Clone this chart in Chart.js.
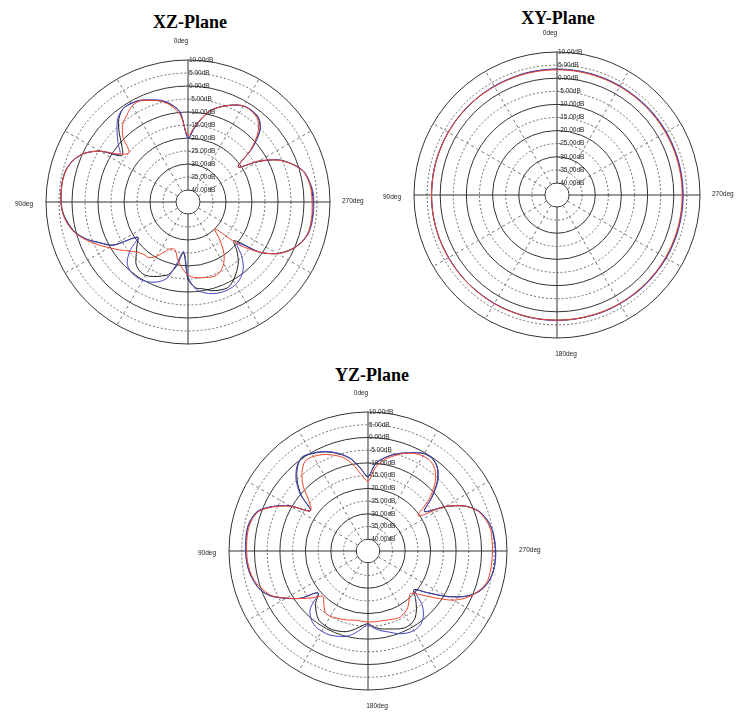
<!DOCTYPE html>
<html>
<head>
<meta charset="utf-8">
<script src="https://cdn.jsdelivr.net/npm/chart.js@4.4.0/dist/chart.umd.min.js"></script>
<style>
  html, body { margin: 0; padding: 0; background: #fff; }
  body { width: 743px; height: 721px; position: relative; overflow: hidden; }
  .title { position: absolute; font: bold 18px "Liberation Serif", "Times New Roman", serif; line-height: 18px; color: #000; transform: translateX(-50%); white-space: nowrap; }
  canvas { position: absolute; }
</style>
</head>
<body>
<div class="title" style="left:190px; top:13px">XZ-Plane</div>
<div class="title" style="left:558px; top:9px">XY-Plane</div>
<div class="title" style="left:372px; top:366px">YZ-Plane</div>
<canvas id="xz" width="372" height="320" style="left:0px; top:30px"></canvas>
<canvas id="xy" width="369" height="340" style="left:374px; top:25px"></canvas>
<canvas id="yz" width="370" height="331" style="left:190px; top:390px"></canvas>
<script>
// angles (deg, counter-clockwise from top as in the plots)
const angles = [0, 5, 10, 15, 20, 25, 30, 35, 40, 45, 50, 55,
  60, 65, 70, 75, 80, 85, 90, 95, 100, 105, 110, 115,
  120, 125, 130, 135, 140, 145, 150, 155, 160, 165, 170, 175,
  180, 185, 190, 195, 200, 205, 210, 215, 220, 225, 230, 235,
  240, 245, 250, 255, 260, 265, 270, 275, 280, 285, 290, 295,
  300, 305, 310, 315, 320, 325, 330, 335, 340, 345, 350, 355];

const dbTicks = [-40, -35, -30, -25, -20, -15, -10, -5, 0, 5, 10];
const dbMin = -44.6;
const dbMax = 10;

// XZ-Plane
const xzBlack = [-20, -10, -6.5, -4.3, -3.0, -1.5, -0.9, -0.9, -3.2, -7.2, -11.5, -13.5,
  -5.5, -0.5, 2.3, 3.8, 4.3, 4.3, 4.2, 3.6, 2.2, 0.3, -3.0, -7.5,
  -11.5, -21, -19, -16.5, -13.5, -12.2, -12.0, -13.0, -14.3, -15.8, -19.7, -25,
  -15, -11.5, -10.7, -9.3, -8.6, -8.3, -9.8, -12, -14.5, -18, -21.5, -11,
  -5, -1.2, 1.5, 3.0, 3.5, 3.6, 3.5, 3.3, 2.5, 1.3, -2, -6.3,
  -13.5, -21, -12.5, -5.5, -2.5, -1.8, -2.0, -3.5, -5.5, -7.8, -11.5, -16];
const xzBlue = [-20, -10, -6.3, -4.1, -2.8, -1.4, -0.8, -0.9, -2.6, -6.0, -9.5, -12.5,
  -5.5, -0.4, 2.4, 3.9, 4.4, 4.4, 4.3, 3.7, 2.3, 0.4, -2.9, -7.3,
  -11.3, -21, -15.5, -11.5, -10, -9.6, -9.8, -10.6, -12, -14.5, -21, -25.5,
  -16, -11, -9.2, -8.1, -7.6, -7.5, -8.0, -9.2, -11.5, -15.5, -20, -11,
  -4.9, -1.1, 1.6, 3.2, 3.7, 3.8, 3.8, 3.6, 2.7, 1.4, -1.9, -6.2,
  -13.3, -21, -12.3, -5.3, -2.3, -1.7, -1.9, -3.4, -5.4, -7.7, -11.4, -16];
const xzRed = [-19, -11, -7, -4.5, -3.0, -1.6, -1.8, -3.7, -5.6, -9.2, -15, -12.5,
  -5.5, -0.5, 2.3, 3.8, 4.3, 4.4, 4.3, 3.8, 2.6, 0.6, -2.5, -6,
  -9.5, -12.5, -15.2, -17.3, -18.2, -18.5, -20.5, -23.5, -25.5, -25.5, -22, -19,
  -16.5, -15.5, -15, -14.6, -14.3, -15.2, -17.2, -20.5, -25.5, -30, -19, -11,
  -4.8, -1, 1.5, 3.0, 3.3, 3.3, 3.1, 3.0, 2.5, 1.2, -2, -6.5,
  -13, -21, -13, -6.5, -3, -2, -2, -3.5, -5.5, -7.8, -11.3, -15.5];

// XY-Plane
const xyBlack = [3.4, 3.4, 3.4, 3.4, 3.3, 3.3, 3.3, 3.3, 3.3, 3.3, 3.3, 3.3,
  3.3, 3.3, 3.3, 3.3, 3.3, 3.3, 3.3, 3.3, 3.3, 3.3, 3.3, 3.2,
  3.2, 3.2, 3.2, 3.2, 3.2, 3.2, 3.2, 3.2, 3.2, 3.2, 3.2, 3.2,
  3.2, 3.2, 3.2, 3.2, 3.3, 3.3, 3.3, 3.3, 3.3, 3.3, 3.3, 3.4,
  3.4, 3.4, 3.4, 3.4, 3.4, 3.4, 3.4, 3.4, 3.4, 3.4, 3.4, 3.4,
  3.4, 3.4, 3.4, 3.4, 3.4, 3.4, 3.4, 3.4, 3.4, 3.4, 3.4, 3.4];
const xyBlue = [3.5, 3.5, 3.5, 3.5, 3.4, 3.4, 3.4, 3.4, 3.4, 3.4, 3.4, 3.4,
  3.4, 3.4, 3.4, 3.4, 3.4, 3.3, 3.3, 3.3, 3.3, 3.3, 3.3, 3.2,
  3.2, 3.2, 3.2, 3.2, 3.2, 3.2, 3.2, 3.2, 3.2, 3.3, 3.3, 3.3,
  3.3, 3.3, 3.3, 3.3, 3.4, 3.4, 3.4, 3.4, 3.5, 3.5, 3.5, 3.5,
  3.6, 3.6, 3.6, 3.6, 3.6, 3.6, 3.6, 3.6, 3.6, 3.6, 3.6, 3.6,
  3.6, 3.6, 3.6, 3.6, 3.5, 3.5, 3.5, 3.5, 3.5, 3.5, 3.5, 3.5];
const xyRed = [3.2, 3.2, 3.2, 3.2, 3.2, 3.2, 3.2, 3.3, 3.3, 3.3, 3.3, 3.3,
  3.3, 3.3, 3.3, 3.3, 3.3, 3.3, 3.3, 3.3, 3.3, 3.3, 3.3, 3.3,
  3.3, 3.3, 3.3, 3.3, 3.3, 3.3, 3.3, 3.3, 3.2, 3.2, 3.2, 3.2,
  3.2, 3.2, 3.2, 3.2, 3.2, 3.2, 3.2, 3.2, 3.2, 3.2, 3.2, 3.2,
  3.2, 3.2, 3.2, 3.2, 3.2, 3.2, 3.2, 3.2, 3.2, 3.2, 3.2, 3.2,
  3.2, 3.2, 3.2, 3.2, 3.2, 3.2, 3.2, 3.2, 3.2, 3.2, 3.2, 3.2];

// YZ-Plane
const yzBlack = [-15.5, -12.2, -8.2, -5.5, -3.4, -1.7, -0.5, 0.4, -1.5, -5.2, -10.3, -17,
  -9.2, -3.3, 1.3, 3.0, 3.6, 3.5, 3.4, 3.2, 2.7, 1.7, 0.2, -2.7,
  -7.5, -12.3, -19, -15.5, -13, -11.2, -10.8, -10.6, -11.1, -11.8, -13.3, -15,
  -16, -14.5, -13.5, -12.9, -12, -11.2, -11.3, -12.4, -15, -18.2, -21, -16,
  -9, -2.5, 1.8, 4.0, 5.1, 5.5, 5.5, 5.25, 4.8, 3.6, 1.5, -2.8,
  -9.8, -17.5, -12, -6.2, -2.2, -0.4, -0.5, -2.0, -3.7, -5.4, -7.5, -10.2];
const yzBlue = [-15.3, -12, -8, -5.3, -3.2, -1.5, -0.3, 0.5, -1.2, -4.6, -9.8, -17,
  -9.0, -3.2, 1.4, 3.1, 3.7, 3.6, 3.5, 3.3, 2.8, 1.8, 0.3, -2.6,
  -7.4, -12.2, -19, -12.5, -9.8, -8.5, -8.2, -8.3, -9.0, -9.8, -11.5, -13.8,
  -15.6, -14, -12.7, -11.6, -10, -9, -8.5, -9, -10.8, -14.5, -20.5, -16,
  -8.9, -2.4, 1.9, 4.1, 5.2, 5.6, 5.6, 5.35, 4.9, 3.7, 1.6, -2.7,
  -9.7, -17.5, -11.8, -5.8, -2.0, -0.3, -0.4, -1.9, -3.6, -5.3, -7.4, -10];
const yzRed = [-17.2, -14.5, -10, -6.6, -4.5, -2.8, -1.7, -1.5, -4.3, -8.6, -14.5, -17,
  -9.5, -3.6, 1.0, 2.6, 3.2, 3.2, 3.1, 2.9, 2.4, 1.4, -0.6, -3,
  -7.6, -12, -16, -19.4, -17.6, -15.3, -14.9, -15.5, -16, -16.5, -17, -16.9,
  -16.7, -16.7, -16.7, -16.5, -16.1, -15.7, -16.3, -17.4, -19.5, -21, -18, -12.5,
  -6, -1.5, 1.5, 3.6, 4.1, 4.2, 4.3, 4.3, 4.3, 3.2, 1.3, -2.8,
  -9.8, -20.5, -13.5, -7.5, -3.5, -1.6, -1.5, -2.3, -3.8, -6.0, -8.3, -11.8];

const BLACK = '#1e1e1e';
const BLUE = '#4646c8';
const RED = '#f0442c';

// radar goes clockwise, the plots go counter-clockwise
function toChartOrder(values) {
  const n = values.length;
  return values.map((v, i) => values[(n - i) % n]);
}

const polarDecor = {
  id: 'polarDecor',
  beforeDatasetsDraw(chart) {
    const s = chart.scales.r;
    const ctx = chart.ctx;
    const hole = s.getDistanceFromCenterForValue(dbTicks[0]);
    ctx.save();
    ctx.fillStyle = '#fff';
    ctx.beginPath();
    ctx.arc(s.xCenter, s.yCenter, hole - 0.7, 0, Math.PI * 2);
    ctx.fill();
    ctx.restore();
  },
  afterDraw(chart, args, opts) {
    const s = chart.scales.r;
    const ctx = chart.ctx;
    const R = s.drawingArea;
    ctx.save();
    ctx.fillStyle = '#222';
    ctx.font = '6.5px Arial, "Liberation Sans", sans-serif';
    ctx.textAlign = 'left';
    ctx.textBaseline = 'middle';
    s.ticks.forEach(t => {
      const y = s.yCenter - s.getDistanceFromCenterForValue(t.value);
      ctx.fillText(t.value.toFixed(2) + 'dB', s.xCenter + 1, y);
    });
    ctx.font = '6.5px Arial, "Liberation Sans", sans-serif';
    (opts.degLabels || []).forEach(d => {
      if (d.at === 'top') {
        ctx.textAlign = 'center';
        ctx.fillText(d.text, s.xCenter - 7, s.yCenter - R - 19);
      } else if (d.at === 'left') {
        ctx.textAlign = 'right';
        ctx.fillText(d.text, s.xCenter - R - 13, s.yCenter + 2);
      } else if (d.at === 'right') {
        ctx.textAlign = 'left';
        ctx.fillText(d.text, s.xCenter + R + 12, s.yCenter - 1);
      } else {
        ctx.textAlign = 'center';
        ctx.fillText(d.text, s.xCenter + 9, s.yCenter + R + 16);
      }
    });
    ctx.restore();
  }
};

function line(values, color) {
  return {
    data: toChartOrder(values),
    borderColor: color,
    borderWidth: 1,
    pointRadius: 0,
    pointHoverRadius: 0,
    fill: false,
    tension: 0.3
  };
}

function makePlot(id, black, blue, red, pad, degLabels) {
  return new Chart(document.getElementById(id), {
    type: 'radar',
    data: {
      labels: toChartOrder(angles).map(a => a + 'deg'),
      datasets: [line(red, RED), line(blue, BLUE), line(black, BLACK)]
    },
    options: {
      responsive: false,
      animation: false,
      events: [],
      layout: { padding: pad },
      plugins: {
        legend: { display: false },
        tooltip: { enabled: false },
        polarDecor: { degLabels: degLabels }
      },
      scales: {
        r: {
          min: dbMin,
          max: dbMax,
          afterBuildTicks: s => { s.ticks = dbTicks.map(v => ({ value: v })); },
          ticks: { display: false },
          pointLabels: { display: false },
          grid: {
            circular: true,
            color: c => (c.tick && c.tick.value % 10 === 0) ? '#333' : '#6a6a6a',
            lineWidth: 1
          },
          border: {
            dash: c => (c.tick && c.tick.value % 10 !== 0) ? [2, 2] : []
          },
          angleLines: {
            color: c => c.index % 18 === 0 ? '#333' : '#777',
            lineWidth: c => c.index % 6 === 0 ? 1 : 0,
            borderDash: c => c.index % 18 === 0 ? [] : [3, 3]
          }
        }
      }
    },
    plugins: [polarDecor]
  });
}

makePlot('xz', xzBlack, xzBlue, xzRed,
  { left: 46, top: 30, right: 42, bottom: 6 },
  [{ text: '0deg', at: 'top' }, { text: '90deg', at: 'left' }, { text: '270deg', at: 'right' }]);

makePlot('xy', xyBlack, xyBlue, xyRed,
  { left: 40, top: 27, right: 43, bottom: 27 },
  [{ text: '0deg', at: 'top' }, { text: '90deg', at: 'left' }, { text: '270deg', at: 'right' }, { text: '180deg', at: 'bottom' }]);

makePlot('yz', yzBlack, yzBlue, yzRed,
  { left: 39, top: 22, right: 53, bottom: 31 },
  [{ text: '0deg', at: 'top' }, { text: '90deg', at: 'left' }, { text: '270deg', at: 'right' }, { text: '180deg', at: 'bottom' }]);
</script>
</body>
</html>
